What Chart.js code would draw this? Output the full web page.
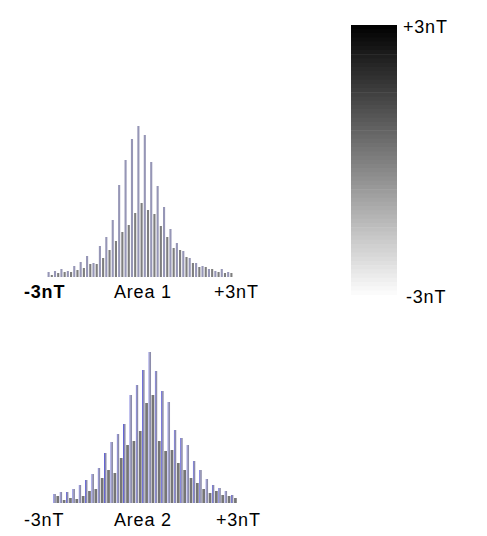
<!DOCTYPE html>
<html>
<head>
<meta charset="utf-8">
<script src="https://cdn.jsdelivr.net/npm/chart.js@4/dist/chart.umd.min.js"></script>
<style>
  html, body { margin: 0; padding: 0; background: #ffffff; }
  body { width: 487px; height: 536px; position: relative; overflow: hidden; font-family: "Liberation Sans", Arial, sans-serif; }
  .box { position: absolute; }
  .lbl { position: absolute; font-size: 18px; letter-spacing: 0.8px; color: #000; white-space: nowrap; line-height: 1; }
</style>
</head>
<body>
<div class="box" style="left:47px; top:120px; width:186px; height:157px;"><canvas id="h1"></canvas></div>
<div class="box" style="left:53px; top:346px; width:184px; height:157px;"><canvas id="h2"></canvas></div>
<div class="box" style="left:351px; top:25px; width:46px; height:270px;"><canvas id="cb"></canvas></div>

<div class="lbl" style="left:24px; top:283px; font-weight:bold;">-3nT</div>
<div class="lbl" style="left:114px; top:283px;">Area 1</div>
<div class="lbl" style="left:214px; top:283px;">+3nT</div>

<div class="lbl" style="left:24px; top:511px;">-3nT</div>
<div class="lbl" style="left:114px; top:511px;">Area 2</div>
<div class="lbl" style="left:216px; top:511px;">+3nT</div>

<div class="lbl" style="left:403px; top:18px;">+3nT</div>
<div class="lbl" style="left:406px; top:288px;">-3nT</div>

<script>
// ---- Data (bar heights, in counts) ----
const bins1 = Array.from({length: 29}, (_, i) => String(i));
const area1Tall  = [5, 6, 8, 6, 11, 15, 21, 14, 31, 40, 57, 92, 117, 138, 151, 142, 115, 91, 70, 48, 34, 26, 19, 14, 11, 8, 6, 8, 5];
const area1Short = [2, 4, 5, 5, 7, 9, 13, 13, 19, 27, 36, 45, 52, 64, 74, 67, 63, 51, 40, 29, 27, 20, 14, 10, 10, 8, 5, 4, 4];

const bins2 = Array.from({length: 29}, (_, i) => String(i));
const area2Tall  = [9, 11, 11, 14, 18, 23, 29, 35, 50, 61, 69, 79, 108, 118, 133, 151, 132, 112, 101, 73, 65, 58, 42, 33, 24, 18, 15, 12, 8];
const area2Short = [7, 3, 5, 4, 7, 12, 14, 25, 33, 30, 45, 58, 62, 72, 100, 108, 62, 52, 53, 40, 33, 25, 20, 14, 10, 12, 8, 7, 5];

const colorbarRange = [-3, 3];
const colorbarSteps = 64;

Chart.defaults.animation = false;
Chart.defaults.responsive = true;
Chart.defaults.maintainAspectRatio = false;

function histOptions(maxY) {
  return {
    layout: { padding: 0 },
    plugins: { legend: { display: false }, tooltip: { enabled: false } },
    scales: {
      x: { display: false, offset: true, grid: { display: false } },
      y: { display: false, min: 0, max: maxY, grid: { display: false } }
    }
  };
}

new Chart(document.getElementById('h1'), {
  type: 'bar',
  data: {
    labels: bins1,
    datasets: [
      { data: area1Tall, backgroundColor: '#9696b6', borderWidth: 0, categoryPercentage: 1.0, barPercentage: 0.66 },
      { data: area1Short, backgroundColor: '#7e7e7e', borderWidth: 0, categoryPercentage: 1.0, barPercentage: 0.66 }
    ]
  },
  options: histOptions(157)
});

new Chart(document.getElementById('h2'), {
  type: 'bar',
  data: {
    labels: bins2,
    datasets: [
      { data: area2Tall, backgroundColor: '#8c8caa', borderColor: '#6464d6', borderWidth: {left: 1, right: 0, top: 0, bottom: 0}, categoryPercentage: 1.0, barPercentage: 0.86 },
      { data: area2Short, backgroundColor: '#767676', borderWidth: 0, categoryPercentage: 1.0, barPercentage: 0.86 }
    ]
  },
  options: histOptions(157)
});

// Colour bar: stacked segments from -3nT (white) to +3nT (black)
const segStep = (colorbarRange[1] - colorbarRange[0]) / colorbarSteps;
const cbDatasets = [];
for (let i = 0; i < colorbarSteps; i++) {
  const g = Math.round(253 - (253 * (i + 0.5) / colorbarSteps));
  cbDatasets.push({ data: [segStep], backgroundColor: `rgb(${g},${g},${g})`, borderWidth: 0, categoryPercentage: 1.0, barPercentage: 1.0, stack: 's' });
}
new Chart(document.getElementById('cb'), {
  type: 'bar',
  data: { labels: ['nT'], datasets: cbDatasets },
  options: {
    layout: { padding: 0 },
    plugins: { legend: { display: false }, tooltip: { enabled: false } },
    scales: {
      x: { display: false, stacked: true },
      y: { display: false, stacked: true, min: 0, max: colorbarRange[1] - colorbarRange[0] }
    }
  }
});
</script>
</body>
</html>
